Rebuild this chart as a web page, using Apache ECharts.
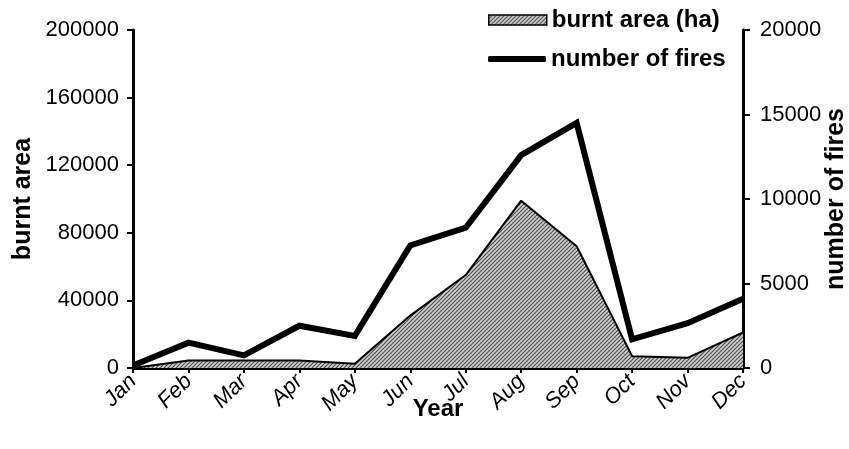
<!DOCTYPE html>
<html>
<head>
<meta charset="utf-8">
<script src="https://cdn.jsdelivr.net/npm/echarts@6/dist/echarts.min.js"></script>
<style>
html, body { margin: 0; padding: 0; background: #fff; }
#main { width: 849px; height: 449px; }
</style>
</head>
<body>
<div id="main"></div>
<script>
var months = ['Jan', 'Feb', 'Mar', 'Apr', 'May', 'Jun', 'Jul', 'Aug', 'Sep', 'Oct', 'Nov', 'Dec'];
var burntArea = [0, 4500, 4500, 4500, 2500, 31000, 55000, 99000, 72000, 7000, 6000, 21000];
var fires = [150, 1500, 750, 2500, 1900, 7250, 8300, 12600, 14500, 1700, 2650, 4100];
var areaTicks = [0, 200000, 40000];
var fireTicks = [0, 20000, 5000];

var FONT = '"Liberation Sans", Arial, sans-serif';

// hatch pattern: dark "////" stripes on light grey
function makeHatch() {
    var c = document.createElement('canvas');
    c.width = 4;
    c.height = 4;
    var ctx = c.getContext('2d');
    ctx.fillStyle = '#cfcfcf';
    ctx.fillRect(0, 0, 4, 4);
    ctx.strokeStyle = '#4a4a4a';
    ctx.lineWidth = 1.1;
    ctx.beginPath();
    ctx.moveTo(-1, 5); ctx.lineTo(5, -1);
    ctx.moveTo(-1, 1); ctx.lineTo(1, -1);
    ctx.moveTo(3, 5); ctx.lineTo(5, 3);
    ctx.stroke();
    return c;
}
var hatch = { image: makeHatch(), repeat: 'repeat' };

function plain(v) { return String(v); }

var chart = echarts.init(document.getElementById('main'));
var option = {
    animation: false,
    backgroundColor: '#fff',
    textStyle: { fontFamily: FONT, color: '#000' },
    grid: {
        left: 133,
        right: 106,
        top: 30,
        bottom: 81,
        containLabel: false,
        outerBoundsMode: 'none'
    },
    legend: [
        {
            left: 483,
            top: 3,
            itemWidth: 58,
            itemHeight: 10,
            textStyle: { fontFamily: FONT, fontSize: 24, fontWeight: 'bold', color: '#000' },
            data: [{
                name: 'burnt area (ha)',
                icon: 'rect',
                itemStyle: { color: hatch, borderColor: '#000', borderWidth: 1.5 }
            }]
        },
        {
            left: 483,
            top: 42,
            itemWidth: 58,
            itemHeight: 6,
            textStyle: { fontFamily: FONT, fontSize: 24, fontWeight: 'bold', color: '#000' },
            data: [{
                name: 'number of fires',
                icon: 'roundRect',
                itemStyle: { color: '#000', borderWidth: 0 }
            }]
        }
    ],
    xAxis: {
        type: 'category',
        boundaryGap: false,
        data: months,
        name: 'Year',
        nameLocation: 'middle',
        nameGap: 29,
        nameMoveOverlap: false,
        nameTextStyle: { fontFamily: FONT, fontSize: 24, fontWeight: 'bold', color: '#000' },
        axisLine: { lineStyle: { color: '#000', width: 3 } },
        axisTick: { show: true, length: 5, lineStyle: { color: '#000', width: 2 } },
        axisLabel: {
            interval: 0,
            rotate: 45,
            margin: 10,
            fontFamily: FONT,
            fontSize: 22,
            fontStyle: 'italic',
            color: '#000'
        },
        splitLine: { show: false }
    },
    yAxis: [
        {
            type: 'value',
            min: areaTicks[0],
            max: areaTicks[1],
            interval: areaTicks[2],
            name: 'burnt area',
            nameLocation: 'middle',
            nameRotate: 90,
            nameGap: 97,
            nameMoveOverlap: false,
            nameTextStyle: { fontFamily: FONT, fontSize: 25, fontWeight: 'bold', color: '#000' },
            axisLine: { show: true, lineStyle: { color: '#000', width: 3 } },
            axisTick: { show: true, length: 6, lineStyle: { color: '#000', width: 2 } },
            axisLabel: { margin: 14, fontFamily: FONT, fontSize: 22, color: '#000', formatter: plain },
            splitLine: { show: false }
        },
        {
            type: 'value',
            position: 'right',
            min: fireTicks[0],
            max: fireTicks[1],
            interval: fireTicks[2],
            name: 'number of fires',
            nameLocation: 'middle',
            nameRotate: 90,
            nameGap: 81,
            nameMoveOverlap: false,
            nameTextStyle: { fontFamily: FONT, fontSize: 25, fontWeight: 'bold', color: '#000' },
            axisLine: { show: true, lineStyle: { color: '#000', width: 3 } },
            axisTick: { show: true, length: 7, lineStyle: { color: '#000', width: 2 } },
            axisLabel: { margin: 17, fontFamily: FONT, fontSize: 22, color: '#000', formatter: plain },
            splitLine: { show: false }
        }
    ],
    series: [
        {
            name: 'burnt area (ha)',
            type: 'line',
            yAxisIndex: 0,
            data: burntArea,
            symbol: 'none',
            lineStyle: { color: '#000', width: 2 },
            itemStyle: { color: '#000' },
            areaStyle: { color: hatch, opacity: 1 }
        },
        {
            name: 'number of fires',
            type: 'line',
            yAxisIndex: 1,
            data: fires,
            symbol: 'none',
            lineStyle: { color: '#000', width: 6, join: 'miter' },
            itemStyle: { color: '#000' }
        }
    ]
};
chart.setOption(option);
</script>
</body>
</html>
